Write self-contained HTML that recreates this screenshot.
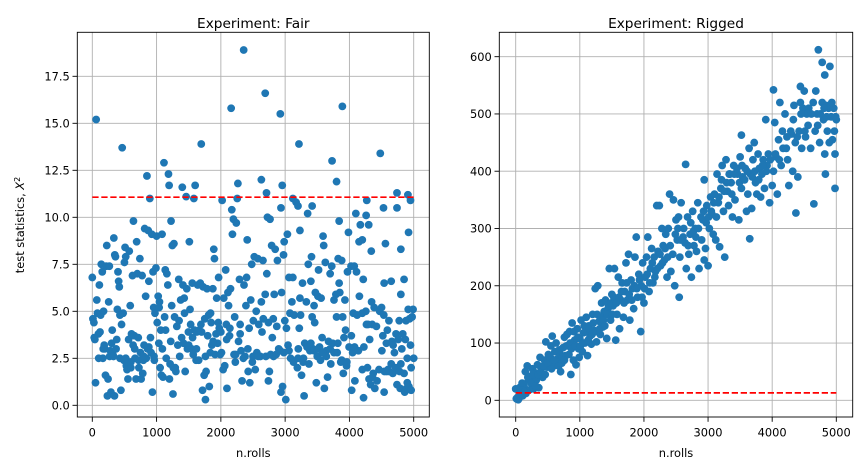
<!DOCTYPE html>
<html><head><meta charset="utf-8"><style>
html,body{margin:0;padding:0;background:#fff;}
svg{display:block;font-family:"DejaVu Sans","Liberation Sans",sans-serif;}
</style></head><body>
<svg id="chart" width="863" height="470" viewBox="0 0 863 470" xmlns="http://www.w3.org/2000/svg"></svg>
<script>
const fairXTicks = [0,1000,2000,3000,4000,5000];
const fairYTicks = [0,2.5,5,7.5,10,12.5,15,17.5];
const fairYTickLabels = ["0.0","2.5","5.0","7.5","10.0","12.5","15.0","17.5"];
const fairThreshold = 11.07;
const fairPoints = [[0,6.8],[10,4.6],[25,4.4],[40,3.5],[50,1.2],[60,15.2],[70,5.6],[80,4.9],[95,3.8],[100,2.5],[110,6.4],[130,4.8],[140,7.5],[155,7.1],[165,2.5],[175,5.0],[185,3.2],[195,3.0],[205,1.6],[215,7.4],[225,8.5],[235,0.5],[245,1.4],[255,5.5],[265,7.4],[280,2.9],[290,0.7],[300,3.3],[310,4.0],[320,2.7],[335,8.9],[345,0.5],[350,8.0],[360,7.9],[370,3.0],[380,3.5],[390,5.1],[400,7.1],[410,6.6],[420,6.3],[430,2.5],[445,0.8],[455,4.3],[465,13.7],[480,4.9],[490,2.4],[500,7.6],[510,8.4],[520,7.9],[530,2.1],[540,1.9],[555,1.4],[565,3.5],[575,8.2],[590,5.3],[600,2.3],[610,3.8],[625,6.9],[635,3.2],[640,9.8],[655,3.7],[665,2.5],[680,1.4],[690,8.7],[700,7.0],[715,3.6],[725,2.0],[740,7.8],[750,2.8],[760,1.4],[775,6.9],[785,1.7],[795,2.4],[805,3.2],[815,9.4],[830,5.8],[840,2.5],[850,12.2],[860,3.0],[870,9.3],[880,6.6],[895,11.0],[905,3.6],[915,2.8],[925,9.1],[935,0.7],[945,7.1],[955,5.2],[965,2.4],[975,4.9],[990,7.3],[1000,9.0],[1010,4.4],[1025,5.8],[1035,3.3],[1045,5.5],[1055,2.0],[1065,4.0],[1075,1.6],[1085,9.1],[1100,1.5],[1115,12.9],[1125,4.7],[1135,7.2],[1150,2.5],[1160,7.0],[1175,6.4],[1185,12.3],[1195,11.7],[1200,1.4],[1210,2.2],[1225,9.8],[1235,5.3],[1245,8.5],[1255,0.6],[1270,8.6],[1280,4.7],[1290,2.0],[1300,1.8],[1315,4.2],[1330,3.2],[1345,6.7],[1360,2.6],[1375,5.6],[1390,3.6],[1400,11.6],[1410,6.4],[1420,3.3],[1435,4.9],[1445,1.8],[1460,11.1],[1470,6.2],[1480,3.0],[1495,3.9],[1510,8.7],[1520,5.1],[1530,4.3],[1545,3.0],[1555,6.5],[1570,2.7],[1580,11.0],[1590,4.0],[1600,11.7],[1615,2.4],[1625,3.9],[1640,6.4],[1655,2.4],[1665,4.0],[1680,6.5],[1695,13.9],[1700,3.9],[1715,0.8],[1725,6.3],[1740,1.6],[1750,4.6],[1760,0.3],[1770,1.8],[1785,6.2],[1795,3.7],[1810,4.8],[1820,1.0],[1835,2.8],[1850,4.4],[1860,3.2],[1875,6.2],[1890,8.3],[1900,7.8],[1910,2.7],[1925,3.8],[1935,5.7],[1950,3.3],[1965,6.8],[1975,4.1],[1990,2.7],[2000,3.9],[2020,10.9],[2035,1.9],[2045,5.7],[2060,2.1],[2075,7.2],[2085,4.3],[2095,0.9],[2110,6.0],[2120,5.3],[2135,3.7],[2150,6.2],[2160,15.8],[2170,10.4],[2180,9.1],[2195,9.9],[2205,2.7],[2215,4.7],[2225,2.3],[2240,9.7],[2255,11.0],[2265,11.8],[2275,3.4],[2290,6.7],[2300,3.8],[2315,2.9],[2330,1.3],[2355,18.9],[2360,6.4],[2375,2.6],[2390,5.3],[2400,6.8],[2410,8.8],[2425,1.8],[2440,4.1],[2450,1.2],[2465,5.6],[2480,7.5],[2490,2.3],[2505,4.5],[2520,7.9],[2535,1.9],[2550,5.0],[2560,2.8],[2575,7.8],[2590,4.3],[2630,12.0],[2615,2.6],[2630,5.5],[2640,3.9],[2655,7.7],[2690,16.6],[2710,11.3],[2690,5.9],[2700,2.6],[2715,7.0],[2725,10.0],[2740,1.3],[2755,1.8],[2765,9.9],[2775,2.7],[2790,8.5],[2800,3.6],[2815,4.6],[2830,5.9],[2845,8.3],[2860,2.7],[2870,4.2],[2880,7.7],[2925,15.5],[2955,11.7],[2935,10.5],[2925,2.9],[2935,0.7],[2945,6.0],[2960,1.0],[2975,8.0],[2985,8.7],[2995,4.5],[3010,0.3],[3020,4.1],[3035,9.1],[3045,3.2],[3060,6.8],[3075,4.9],[3085,2.5],[3120,11.0],[3105,5.5],[3120,6.8],[3130,2.3],[3170,10.8],[3215,13.9],[3200,10.6],[3230,9.3],[3190,2.0],[3205,3.0],[3220,4.1],[3230,5.7],[3240,4.8],[3255,1.6],[3270,6.5],[3285,2.5],[3295,0.5],[3305,3.3],[3350,10.2],[3330,5.5],[3420,10.6],[3360,7.5],[3370,2.2],[3385,2.9],[3400,6.6],[3410,7.9],[3420,4.7],[3435,3.0],[3450,5.3],[3460,4.4],[3470,6.0],[3485,1.2],[3500,2.6],[3510,5.8],[3520,7.2],[3535,3.1],[3550,2.4],[3560,5.7],[3575,3.6],[3590,9.0],[3600,8.5],[3610,0.9],[3625,7.6],[3640,2.9],[3730,13.0],[3660,1.5],[3675,3.4],[3800,11.9],[3700,7.0],[3710,2.2],[3725,7.4],[3740,3.3],[3840,9.8],[3760,5.6],[3890,15.9],[3790,5.9],[3800,4.7],[3810,2.8],[3825,7.8],[3840,6.5],[3850,6.0],[3865,2.3],[3880,7.7],[3895,4.7],[3905,1.7],[3915,3.6],[3930,5.6],[3940,4.0],[3955,2.1],[3970,7.1],[3985,9.2],[3995,3.1],[4100,10.2],[4025,7.4],[4035,0.8],[4050,2.8],[4060,4.9],[4075,7.4],[4085,1.3],[4150,8.7],[4110,7.1],[4120,4.8],[4220,0.4],[4200,8.8],[4155,5.8],[4170,9.6],[4260,10.1],[4270,10.9],[4200,1.9],[4215,6.7],[4225,3.1],[4300,9.6],[4255,5.0],[4265,4.3],[4280,2.0],[4340,8.2],[4305,1.4],[4315,3.5],[4330,1.1],[4345,5.5],[4355,4.3],[4370,1.7],[4385,5.2],[4395,0.9],[4480,13.4],[4420,4.2],[4530,10.5],[4540,6.5],[4460,1.9],[4470,5.0],[4540,0.7],[4560,8.6],[4505,2.9],[4520,3.7],[4535,4.8],[4545,1.8],[4650,6.6],[4575,3.3],[4590,4.0],[4600,1.9],[4615,4.5],[4740,11.3],[4740,10.5],[4650,2.2],[4660,3.4],[4675,1.7],[4800,8.3],[4700,2.8],[4800,5.9],[4725,3.8],[4740,1.1],[4850,6.7],[4760,3.5],[4775,4.5],[4790,0.9],[4800,2.2],[4815,3.0],[4910,11.2],[4920,9.2],[4850,1.7],[4860,0.7],[4950,10.9],[4880,4.5],[4890,0.9],[4900,2.5],[4915,5.1],[4925,1.0],[4935,4.6],[4950,3.2],[4960,2.0],[4975,4.7],[4990,5.1],[5000,2.5],[4960,0.8],[4870,3.5]];
const fairExtraPoints = [[30,3.6],[120,3.9],[170,3.0],[270,2.6],[330,2.6],[430,4.8],[520,2.5],[600,2.0],[660,3.0],[720,2.4],[800,2.6],[880,3.1],[960,2.6],[1040,5.2],[1090,3.0],[1140,4.0],[1220,3.4],[1260,2.0],[1350,4.5],[1430,5.7],[1500,3.2],[1560,3.6],[1620,3.0],[1690,4.3],[1760,2.6],[1840,4.9],[1880,3.4],[1960,4.4],[2010,2.8],[2090,3.5],[2140,4.1],[2230,2.7],[2300,4.3],[2350,2.5],[2420,3.0],[2500,2.6],[2580,2.6],[2660,4.6],[2740,4.4],[2820,2.6],[2900,3.0],[2980,2.8],[3060,2.9],[3140,4.8],[3200,2.5],[3280,2.3],[3340,3.1],[3400,3.3],[3450,2.9],[3520,3.0],[3580,2.8],[3640,2.6],[3700,3.0],[3760,2.8],[3820,3.3],[3880,2.4],[3960,2.3],[4030,3.7],[4080,3.1],[4140,2.9],[4200,4.9],[4290,4.3],[4360,1.5],[4430,1.3],[4500,5.2],[4580,1.8],[4620,1.8],[4680,3.2],[4720,2.0],[4780,1.8],[4830,3.8],[4900,1.2]];

const riggedXTicks = [0,1000,2000,3000,4000,5000];
const riggedYTicks = [0,100,200,300,400,500,600];
const riggedYTickLabels = ["0","100","200","300","400","500","600"];
const riggedThreshold = 13;
const riggedPoints = [[0,20],[10,3],[20,2],[30,5],[40,1],[50,3],[60,22],[70,10],[90,18],[110,8],[130,25],[150,50],[160,12],[180,60],[200,35],[210,18],[230,42],[250,28],[260,55],[280,20],[300,48],[320,35],[340,62],[360,22],[380,75],[400,55],[420,40],[450,70],[470,102],[490,58],[510,80],[530,68],[550,95],[570,112],[590,60],[610,85],[630,100],[650,72],[680,88],[700,50],[720,65],[740,92],[760,110],[780,78],[800,115],[820,95],[840,120],[860,45],[880,135],[900,70],[920,105],[940,62],[960,125],[980,90],[1000,108],[1020,140],[1040,85],[1060,118],[1080,100],[1100,145],[1120,78],[1140,130],[1160,112],[1180,98],[1200,150],[1220,122],[1240,195],[1260,102],[1280,200],[1300,138],[1320,115],[1340,170],[1360,128],[1380,155],[1400,175],[1420,108],[1440,160],[1460,230],[1480,140],[1500,185],[1520,165],[1540,230],[1560,105],[1580,150],[1600,215],[1620,125],[1640,175],[1660,205],[1680,145],[1700,190],[1720,240],[1740,175],[1760,255],[1780,140],[1800,210],[1820,195],[1840,160],[1860,250],[1880,285],[1900,180],[1920,220],[1950,120],[1960,200],[1980,240],[2000,170],[2020,215],[2040,250],[2060,285],[2080,190],[2100,230],[2120,265],[2140,205],[2160,250],[2180,225],[2200,340],[2220,260],[2240,340],[2260,235],[2280,300],[2300,270],[2320,245],[2340,290],[2360,215],[2380,300],[2400,360],[2420,225],[2550,180],[2460,350],[2480,200],[2500,315],[2520,280],[2540,320],[2560,250],[2580,345],[2650,412],[2620,300],[2640,275],[2660,230],[2680,320],[2700,255],[2720,290],[2740,215],[2760,330],[2780,270],[2800,300],[2820,260],[2840,345],[2860,230],[2940,385],[2900,280],[2920,315],[2940,245],[2960,265],[2980,340],[3000,235],[3020,300],[3040,355],[3060,325],[3080,290],[3100,360],[3120,280],[3140,395],[3160,345],[3180,268],[3200,370],[3220,410],[3240,330],[3260,250],[3280,420],[3300,365],[3320,340],[3340,395],[3360,380],[3380,320],[3400,410],[3420,350],[3520,463],[3460,395],[3480,315],[3500,425],[3520,370],[3540,390],[3650,282],[3580,405],[3600,330],[3620,360],[3640,440],[3660,395],[3680,335],[3700,420],[3720,450],[3740,380],[3760,360],[3780,430],[3800,405],[3820,355],[3840,395],[3860,420],[3880,370],[3900,490],[3920,410],[3940,430],[3960,345],[4020,542],[4000,375],[4020,400],[4040,485],[4060,425],[4080,360],[4100,455],[4120,520],[4140,410],[4160,470],[4370,327],[4200,500],[4220,440],[4240,420],[4260,375],[4440,548],[4300,465],[4320,400],[4340,515],[4360,450],[4500,540],[4400,390],[4420,470],[4440,520],[4460,440],[4480,510],[4650,343],[4520,460],[4540,500],[4560,480],[4720,612],[4600,440],[4780,590],[4640,520],[4830,395],[4680,540],[4700,500],[4820,568],[4740,450],[4900,583],[4780,520],[4800,490],[4820,430],[4840,515],[4860,470],[4880,510],[4980,370],[4920,495],[4940,455],[4980,430],[4990,495],[5000,490],[4970,470],[4960,510]];
const riggedExtraPoints = [[100,30],[140,15],[190,40],[240,30],[270,45],[310,25],[350,45],[390,50],[430,60],[460,45],[500,65],[540,75],[560,55],[600,70],[640,85],[670,60],[700,80],[730,75],[760,70],[790,95],[830,80],[850,100],[870,90],[910,120],[930,95],[970,110],[990,75],[1010,95],[1050,100],[1070,130],[1090,120],[1130,105],[1150,125],[1190,115],[1210,135],[1250,120],[1270,150],[1310,125],[1330,145],[1370,140],[1390,130],[1430,150],[1450,165],[1490,170],[1510,150],[1530,180],[1570,170],[1610,180],[1650,190],[1690,170],[1730,205],[1770,185],[1810,175],[1850,200],[1890,195],[1930,210],[1970,180],[2010,195],[2050,220],[2090,205],[2130,240],[2170,215],[2210,230],[2250,255],[2290,240],[2330,265],[2370,250],[2410,270],[2450,255],[2490,290],[2530,300],[2570,280],[2610,285],[2690,270],[2730,310],[2770,295],[2810,285],[2850,300],[2890,320],[2930,330],[2970,310],[3010,320],[3050,330],[3090,345],[3130,320],[3170,355],[3210,385],[3250,365],[3290,380],[3330,395],[3370,360],[3410,395],[3450,405],[3490,380],[3530,410],[3570,385],[3610,400],[3690,390],[3730,400],[3790,385],[3850,410],[3910,400],[3970,420],[4050,430],[4110,420],[4170,440],[4230,460],[4290,470],[4330,490],[4390,460],[4450,500],[4510,470],[4570,510],[4610,500],[4670,470],[4710,480],[4750,500],[4810,510],[4850,495],[4890,450],[4930,520]];

const NS = "http://www.w3.org/2000/svg";
const svg = document.getElementById("chart");
function mk(tag, attrs, parent){const e=document.createElementNS(NS,tag);for(const k in attrs)e.setAttribute(k,attrs[k]);(parent||svg).appendChild(e);return e;}

function panel(cfg){
  const g = mk("g",{});
  
  
  const xs = v => cfg.x0 + v * (cfg.x5000 - cfg.x0) / 5000;
  const ys = v => cfg.y0 - v * cfg.yScale;
  cfg.xTicks.forEach(t=>{
    const l = mk("line",{x1:xs(t),x2:xs(t),y1:cfg.top,y2:cfg.bottom,stroke:"#b0b0b0","stroke-width":0.9},g);
    
    
    const tk = mk("line",{x1:xs(t),x2:xs(t),y1:cfg.bottom,y2:cfg.bottom+4.8,stroke:"#000","stroke-width":0.9},g);
    
    
    const tx = mk("text",{x:xs(t),y:cfg.bottom+19.5,"font-size":"11.4px","text-anchor":"middle",fill:"#000"},g);
    tx.textContent = String(t);
    
    
  });
  cfg.yTicks.forEach((t,i)=>{
    const l = mk("line",{x1:cfg.left,x2:cfg.right,y1:ys(t),y2:ys(t),stroke:"#b0b0b0","stroke-width":0.9},g);
    
    
    const tk = mk("line",{x1:cfg.left-4.8,x2:cfg.left,y1:ys(t),y2:ys(t),stroke:"#000","stroke-width":0.9},g);
    
    
    const tx = mk("text",{x:cfg.left-7.5,y:ys(t)+4.2,"font-size":"11.4px","text-anchor":"end",fill:"#000"},g);
    tx.textContent = cfg.yLabels[i];
    
    
  });
  cfg.points.forEach(p=>{
    const c = mk("circle",{cx:xs(p[0]),cy:ys(p[1]),r:3.9,fill:"#1f77b4"},g);
    
    
  });
  const th = mk("line",{x1:xs(0),x2:xs(5000),y1:ys(cfg.threshold),y2:ys(cfg.threshold),stroke:"#ff0000","stroke-width":1.7,"stroke-dasharray":"6.3 2.7"},g);
  
  
  const fr = mk("rect",{x:cfg.left,y:cfg.top,width:cfg.right-cfg.left,height:cfg.bottom-cfg.top,fill:"none",stroke:"#000","stroke-width":0.9},g);
  
  
  const ti = mk("text",{x:(cfg.left+cfg.right)/2,y:28,"font-size":"13.7px","text-anchor":"middle",fill:"#000"},g);
  ti.textContent = cfg.title;
  
  
  const xl = mk("text",{x:(cfg.left+cfg.right)/2,y:457,"font-size":"11.4px","text-anchor":"middle",fill:"#000"},g);
  xl.textContent = "n.rolls";
  
  
}

panel({name:"fair-panel",title:"Experiment: Fair",left:77.3,right:429.3,top:32.3,bottom:417,x0:92.3,x5000:413.7,y0:405.3,yScale:18.8,xTicks:fairXTicks,yTicks:fairYTicks,yLabels:fairYTickLabels,points:fairPoints.concat(fairExtraPoints),threshold:fairThreshold});
panel({name:"rigged-panel",title:"Experiment: Rigged",left:499.3,right:852.7,top:32.3,bottom:417,x0:515.7,x5000:836.3,y0:400.3,yScale:0.5727,xTicks:riggedXTicks,yTicks:riggedYTicks,yLabels:riggedYTickLabels,points:riggedPoints.concat(riggedExtraPoints),threshold:riggedThreshold});

const yl = mk("text",{x:0,y:0,"font-size":"11.4px","text-anchor":"middle",fill:"#000",transform:"translate(24,225) rotate(-90)"});
yl.innerHTML = 'test statistics, <tspan font-style="italic">X</tspan><tspan baseline-shift="super" font-size="8px">2</tspan>';


</script>
</body></html>
